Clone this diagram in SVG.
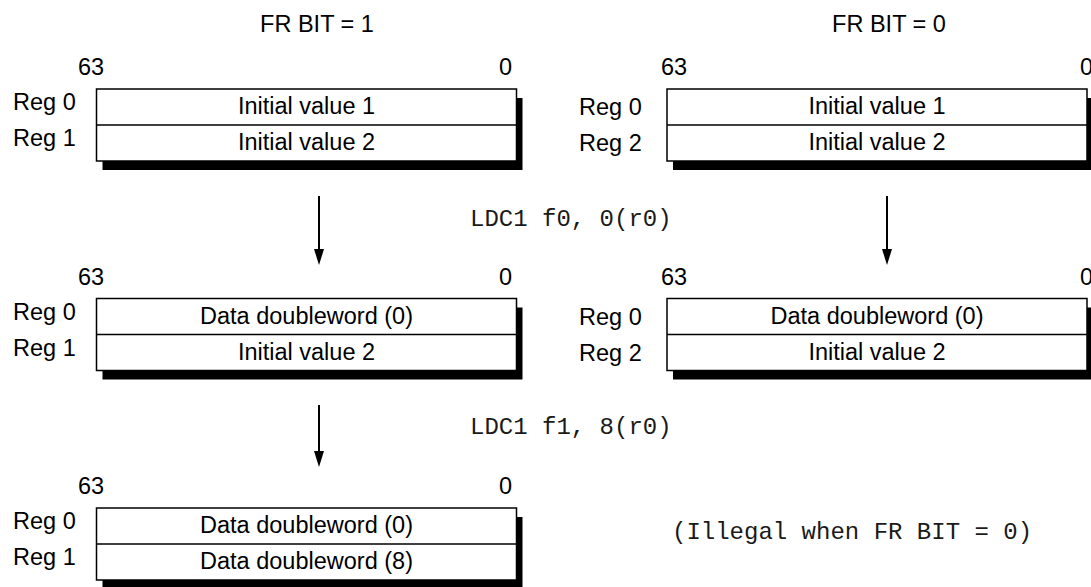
<svg xmlns="http://www.w3.org/2000/svg" width="1091" height="587" viewBox="0 0 1091 587">
<style>
.t{font-family:"Liberation Sans",Arial,Helvetica,sans-serif;font-size:23.5px;fill:#000}
.c{text-anchor:middle}
.m{font-family:"Liberation Mono","Courier New",monospace;font-size:24px;fill:#1a1a1a}
.box{fill:#fff;stroke:#000;stroke-width:1.5}
.sh{fill:#000}
.ln{stroke:#000;stroke-width:1.5}
.ar{stroke:#000;stroke-width:2;fill:none}
.hd{fill:#000}
</style>

<text class="t c" x="317" y="32">FR BIT = 1</text>
<text class="t c" x="889" y="32">FR BIT = 0</text>

<g id="left-top">
<text class="t" x="78" y="75">63</text>
<text class="t" x="499" y="75">0</text>
<rect class="sh" x="102.5" y="98" width="420" height="72"/>
<rect class="box" x="96.5" y="89" width="420" height="72"/>
<line class="ln" x1="96.5" y1="125" x2="516.5" y2="125"/>
<text class="t" x="13" y="110">Reg 0</text>
<text class="t" x="13" y="146">Reg 1</text>
<text class="t c" x="306.5" y="114">Initial value 1</text>
<text class="t c" x="306.5" y="150">Initial value 2</text>
</g>

<g id="right-top">
<text class="t" x="661" y="75">63</text>
<text class="t" x="1080" y="75">0</text>
<rect class="sh" x="673" y="98" width="420" height="72"/>
<rect class="box" x="667" y="89" width="420" height="72"/>
<line class="ln" x1="667" y1="125" x2="1087" y2="125"/>
<text class="t" x="579" y="115">Reg 0</text>
<text class="t" x="579" y="151">Reg 2</text>
<text class="t c" x="877" y="114">Initial value 1</text>
<text class="t c" x="877" y="150">Initial value 2</text>
</g>

<g id="left-mid">
<text class="t" x="78" y="284.5">63</text>
<text class="t" x="499" y="284.5">0</text>
<rect class="sh" x="102.5" y="307.5" width="420" height="72"/>
<rect class="box" x="96.5" y="298.5" width="420" height="72"/>
<line class="ln" x1="96.5" y1="334.5" x2="516.5" y2="334.5"/>
<text class="t" x="13" y="319.5">Reg 0</text>
<text class="t" x="13" y="355.5">Reg 1</text>
<text class="t c" x="306.5" y="323.5">Data doubleword (0)</text>
<text class="t c" x="306.5" y="359.5">Initial value 2</text>
</g>

<g id="right-mid">
<text class="t" x="661" y="284.5">63</text>
<text class="t" x="1080" y="284.5">0</text>
<rect class="sh" x="673" y="307.5" width="420" height="72"/>
<rect class="box" x="667" y="298.5" width="420" height="72"/>
<line class="ln" x1="667" y1="334.5" x2="1087" y2="334.5"/>
<text class="t" x="579" y="324.5">Reg 0</text>
<text class="t" x="579" y="360.5">Reg 2</text>
<text class="t c" x="877" y="323.5">Data doubleword (0)</text>
<text class="t c" x="877" y="359.5">Initial value 2</text>
</g>

<g id="left-bottom">
<text class="t" x="78" y="494">63</text>
<text class="t" x="499" y="494">0</text>
<rect class="sh" x="102.5" y="517" width="420" height="72"/>
<rect class="box" x="96.5" y="508" width="420" height="72"/>
<line class="ln" x1="96.5" y1="544" x2="516.5" y2="544"/>
<text class="t" x="13" y="529">Reg 0</text>
<text class="t" x="13" y="565">Reg 1</text>
<text class="t c" x="306.5" y="533">Data doubleword (0)</text>
<text class="t c" x="306.5" y="569">Data doubleword (8)</text>
</g>

<g id="connectors">
<line class="ar" x1="319" y1="196" x2="319" y2="250"/>
<path class="hd" d="M314,249 L324,249 L319,265 Z"/>
<line class="ar" x1="887" y1="196" x2="887" y2="250"/>
<path class="hd" d="M882,249 L892,249 L887,265 Z"/>
<line class="ar" x1="319" y1="405" x2="319" y2="452"/>
<path class="hd" d="M314,451 L324,451 L319,467 Z"/>
</g>

<text class="m" x="470" y="226">LDC1 f0, 0(r0)</text>
<text class="m" x="470" y="434">LDC1 f1, 8(r0)</text>
<text class="m" x="672" y="539">(Illegal when FR BIT = 0)</text>
</svg>
